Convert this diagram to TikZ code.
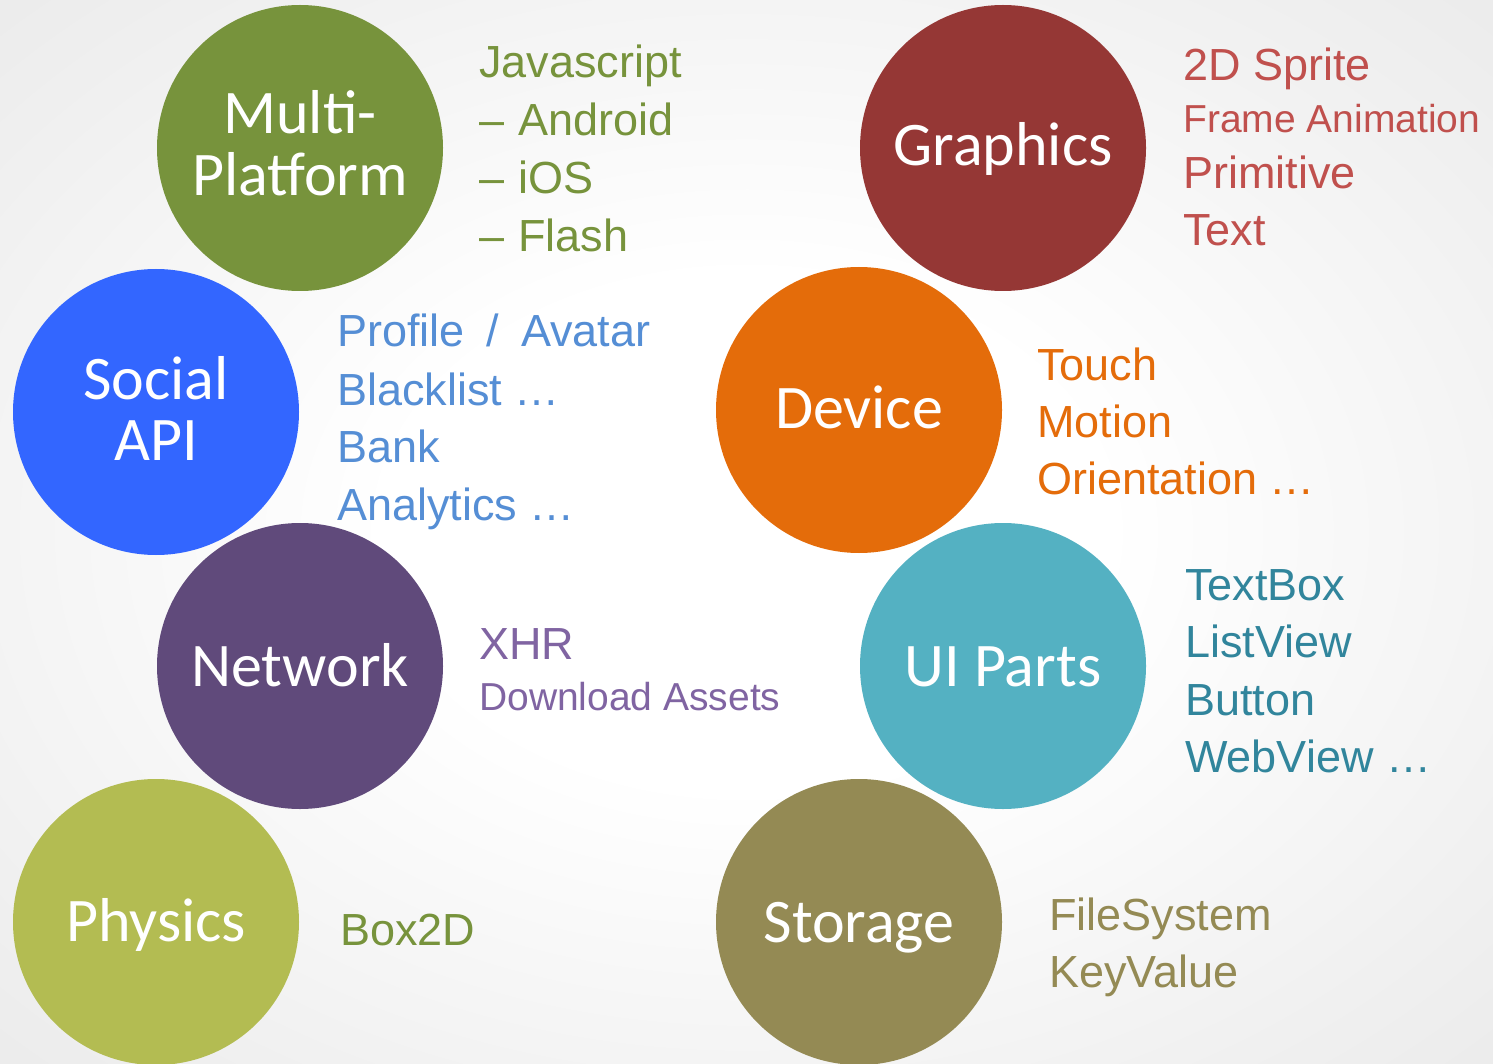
\documentclass[tikz,border=0pt]{standalone}
\usepackage{fontspec}
\setmainfont{Liberation Sans}
\newfontfamily\circfont{Carlito}
\definecolor{mpC}{HTML}{77933C}
\definecolor{soC}{HTML}{3366FF}
\definecolor{neC}{HTML}{604A7B}
\definecolor{phC}{HTML}{B3BC52}
\definecolor{grC}{HTML}{953735}
\definecolor{deC}{HTML}{E46C0A}
\definecolor{uiC}{HTML}{54B1C2}
\definecolor{stC}{HTML}{948A54}
\definecolor{mpT}{HTML}{77933C}
\definecolor{soT}{HTML}{558ED5}
\definecolor{neT}{HTML}{8064A2}
\definecolor{grT}{HTML}{C0504D}
\definecolor{deT}{HTML}{E46C0A}
\definecolor{uiT}{HTML}{31859C}
\definecolor{stT}{HTML}{948A54}
\definecolor{bgO}{HTML}{D6D6D6}
\pgfdeclareradialshading{bgshade}{\pgfpoint{0bp}{0bp}}{color(0bp)=(white); color(12bp)=(white); color(30bp)=(white!94!black); color(50bp)=(white!88!black); color(72bp)=(bgO)}
\tikzset{
  circ/.style={circle, minimum size=286pt, inner sep=0pt, draw=none},
  clabel/.style={anchor=base, inner sep=0pt, text=white, font=\circfont\fontsize{62}{62}\selectfont},
  side/.style={anchor=base west, inner sep=0pt, font=\fontsize{45}{54}\selectfont},
  sides/.style={anchor=base west, inner sep=0pt, font=\fontsize{39}{48}\selectfont},
}
\begin{document}
\begin{tikzpicture}[x=1pt,y=-1pt]
\useasboundingbox (0,0) rectangle (1493,1064);
\shade[shading=bgshade] (0,0) rectangle (1493,1064);
% circles
\node[circ, fill=mpC] (mp) at (300,148) {};
\node[circ, fill=soC] (so) at (156,412) {};
\node[circ, fill=neC] (ne) at (300,666) {};
\node[circ, fill=phC] (ph) at (156,922) {};
\node[circ, fill=grC] (gr) at (1003,148) {};
\node[circ, fill=deC] (de) at (859,410) {};
\node[circ, fill=uiC] (ui) at (1003,666) {};
\node[circ, fill=stC] (st) at (859,922) {};
% circle labels
\node[clabel] (mpl1) at (300,134) {Multi-};
\node[clabel] (mpl2) at (300,196) {Platform};
\node[clabel] (sol1) at (156,399) {Social};
\node[clabel] (sol2) at (156,460) {API};
\node[clabel] (nel) at (300,686) {Network};
\node[clabel] (phl) at (156,941) {Physics};
\node[clabel] (grl) at (1003,166) {Graphics};
\node[clabel] (del) at (859,428) {Device};
\node[clabel] (uil) at (1003,686) {UI Parts};
\node[clabel] (stl) at (859,942) {Storage};
% Multi-Platform texts
\node[side, text=mpT] (mpt1) at (479,78) {Javascript};
\node[side, text=mpT] (mpt2) at (479,136) {–\hspace{14pt}Android};
\node[side, text=mpT] (mpt3) at (479,194) {–\hspace{14pt}iOS};
\node[side, text=mpT] (mpt4) at (479,252) {–\hspace{14pt}Flash};
% Social texts
\node[side, text=soT] (sot1) at (337,347) {Profile\hspace{22pt}/\hspace{22pt}Avatar};
\node[side, text=soT] (sot2) at (337,405) {Blacklist …};
\node[side, text=soT] (sot3) at (337,462) {Bank};
\node[side, text=soT] (sot4) at (337,520) {Analytics …};
% Network texts
\node[side, text=neT] (net1) at (479,659) {XHR};
\node[sides, text=neT] (net2) at (479,710) {Download Assets};
% Physics
\node[side, text=mpT] (pht1) at (340,945) {Box2D};
% Graphics texts
\node[side, text=grT] (grt1) at (1183,81) {2D Sprite};
\node[sides, text=grT] (grt2) at (1183,133) {Frame Animation};
\node[side, text=grT] (grt3) at (1183,189) {Primitive};
\node[side, text=grT] (grt4) at (1183,246) {Text};
% Device texts
\node[side, text=deT] (det1) at (1037,380) {Touch};
\node[side, text=deT] (det2) at (1037,437) {Motion};
\node[side, text=deT] (det3) at (1037,494) {Orientation …};
% UI texts
\node[side, text=uiT] (uit1) at (1185,600) {TextBox};
\node[side, text=uiT] (uit2) at (1185,657) {ListView};
\node[side, text=uiT] (uit3) at (1185,715) {Button};
\node[side, text=uiT] (uit4) at (1185,772) {WebView …};
% Storage texts
\node[side, text=stT] (stt1) at (1049,930) {FileSystem};
\node[side, text=stT] (stt2) at (1049,987) {KeyValue};
\end{tikzpicture}
\end{document}
